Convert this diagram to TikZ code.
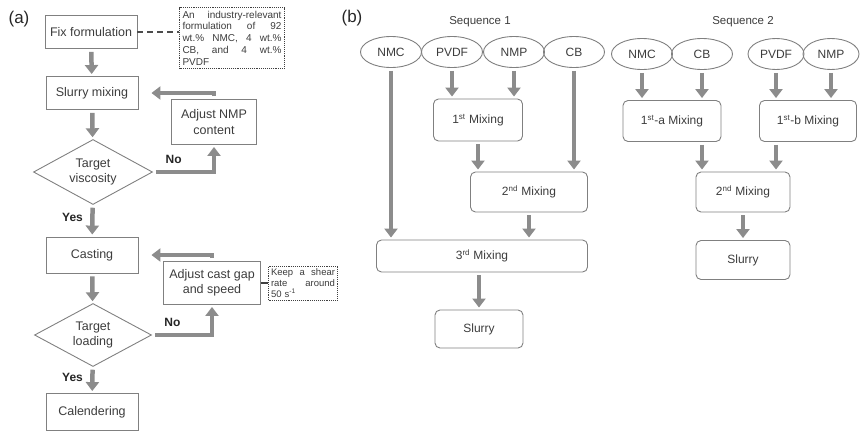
\documentclass[tikz,border=0pt]{standalone}
\usepackage{fontspec}
\setmainfont{Liberation Sans}
\usetikzlibrary{shapes.geometric,arrows.meta}
\definecolor{txtgray}{RGB}{60,60,60}
\definecolor{linegray}{RGB}{128,128,128}
\definecolor{arrgray}{RGB}{140,140,140}

\begin{document}
\begin{tikzpicture}[x=1pt, y=-1pt,
  box/.style={draw=linegray, line width=0.9pt, minimum width=92pt, minimum height=33pt, inner sep=2pt, align=center, text=txtgray, font=\fontsize{12.5}{15.5}\selectfont},
  rbox/.style={box, rounded corners=5pt, font=\fontsize{12}{14}\selectfont},
  decision/.style={box, diamond, aspect=1.8, inner sep=0pt, minimum width=119pt, minimum height=65pt},
  oval/.style={ellipse, draw=linegray, line width=0.9pt, minimum width=61pt, minimum height=31pt, inner sep=0pt, text=txtgray, font=\fontsize{12}{14}\selectfont},
  note/.style={draw=black!75, densely dotted, line width=0.9pt, align=left, inner sep=3pt, text=txtgray},
  flow/.style={draw=arrgray, line width=4.5pt, -{Triangle[length=9pt,width=13pt]}, shorten >=2pt, shorten <=3pt},
  lab/.style={font=\fontsize{12}{14}\selectfont\bfseries, text=black!85},
  seq/.style={font=\fontsize{11.5}{14}\selectfont, text=txtgray},
  panel/.style={font=\fontsize{17}{20}\selectfont, text=black!85}]
	\useasboundingbox (0,0) rectangle (860,432);

	% (a) workflow
	\node[panel] (pa) at (19,19) {(a)};
	\node[box] (fix) at (91,32) {Fix formulation};
	\node[note, text width=99pt, font=\fontsize{10}{11.8}\selectfont] (form) at (232,38) {An\hfill industry-relevant\\ formulation\hfill of\hfill 92\\ wt.\%\hfill NMC,\hfill 4\hfill wt.\%\\ CB,\hfill and\hfill 4\hfill wt.\%\\ PVDF};
	\node[box] (slurry) at (92,93) {Slurry mixing};
	\node[decision] (visc) at (93,172) {Target\\viscosity};
	\node[box, minimum width=85pt, minimum height=45pt] (adjnmp) at (214,122) {Adjust NMP\\content};
	\node[box, minimum height=36pt] (cast) at (92,255) {Casting};
	\node[box, minimum width=97pt, minimum height=43pt] (adjcast) at (212,283) {Adjust cast gap\\and speed};
	\node[note, text width=64pt, inner sep=2.5pt, font=\fontsize{9.5}{11}\selectfont] (shear) at (303,283) {Keep\hfill a\hfill shear\\ rate\hfill around\\ 50 s\textsuperscript{-1}};
	\node[decision, minimum width=117pt, minimum height=63pt] (load) at (93,335) {Target\\loading};
	\node[box, minimum height=37pt] (cal) at (92,412) {Calendering};

	\draw[black!70, line width=1.5pt, dash pattern=on 6pt off 4pt] (fix.east) -- (fix.east -| form.west);
	\draw[black!75, line width=1.5pt] (adjcast) -- (shear);
	\draw[flow] (fix) -- (slurry);
	\draw[flow] (slurry) -- (visc);
	\draw[flow] (visc) -- (cast) node[lab, pos=0.4, left=4pt] {Yes};
	\draw[flow] (visc.east) -| (adjnmp.south) node[lab, pos=0.17, above=3pt] {No};
	\draw[flow] (adjnmp.north) |- ([xshift=11pt]slurry.east);
	\draw[flow] (cast) -- (load);
	\draw[flow] (load) -- (cal) node[lab, pos=0.4, left=4pt] {Yes};
	\draw[flow] (load.east) -| (adjcast.south) node[lab, pos=0.17, above=3pt] {No};
	\draw[flow] (adjcast.north) |- ([xshift=11pt]cast.east);

	% (b) mixing sequences
	\node[panel] (pb) at (352,18) {(b)};
	\node[seq] (seq1) at (480,22) {Sequence 1};
	\node[seq] (seq2) at (743,22) {Sequence 2};

	\node[oval] (nmc1) at (391,52) {NMC};
	\node[oval] (pvdf1) at (452,52) {PVDF};
	\node[oval] (nmp1) at (514,52) {NMP};
	\node[oval] (cb1) at (574,52) {CB};
	\node[rbox, minimum width=89pt, minimum height=42pt] (mix1) at (478,120) {1\textsuperscript{st} Mixing};
	\node[rbox, minimum width=117pt, minimum height=40pt] (mix2) at (529,192) {2\textsuperscript{nd} Mixing};
	\node[rbox, minimum width=211pt, minimum height=32pt] (mix3) at (482,256) {3\textsuperscript{rd} Mixing};
	\node[rbox, minimum width=88pt, minimum height=38pt] (slurry1) at (479,329) {Slurry};

	\draw[flow] (pvdf1) -- (pvdf1 |- mix1.north);
	\draw[flow] (nmp1) -- (nmp1 |- mix1.north);
	\draw[flow] (cb1) -- (cb1 |- mix2.north);
	\draw[flow] (nmc1) -- (nmc1 |- mix3.north);
	\draw[flow] (mix1) -- (mix1 |- mix2.north);
	\draw[flow] (mix2) -- (mix2 |- mix3.north);
	\draw[flow] (slurry1 |- mix3.south) -- (slurry1);

	\node[oval] (nmc2) at (642,54) {NMC};
	\node[oval] (cb2) at (702,54) {CB};
	\node[oval, minimum width=56pt] (pvdf2) at (776,54) {PVDF};
	\node[oval, minimum width=56pt] (nmp2) at (831,54) {NMP};
	\node[rbox, minimum width=98pt, minimum height=41pt] (mix1a) at (672,121) {1\textsuperscript{st}-a Mixing};
	\node[rbox, minimum width=97pt, minimum height=41pt] (mix1b) at (808,121) {1\textsuperscript{st}-b Mixing};
	\node[rbox, minimum width=94pt, minimum height=40pt] (mix2b) at (743,192) {2\textsuperscript{nd} Mixing};
	\node[rbox, minimum width=94pt, minimum height=39pt] (slurry2) at (743,260) {Slurry};

	\draw[flow] (nmc2) -- (nmc2 |- mix1a.north);
	\draw[flow] (cb2) -- (cb2 |- mix1a.north);
	\draw[flow] (pvdf2) -- (pvdf2 |- mix1b.north);
	\draw[flow] (nmp2) -- (nmp2 |- mix1b.north);
	\draw[flow] (cb2 |- mix1a.south) -- (cb2 |- mix2b.north);
	\draw[flow] (pvdf2 |- mix1b.south) -- (pvdf2 |- mix2b.north);
	\draw[flow] (mix2b) -- (slurry2);
\end{tikzpicture}
\end{document}
